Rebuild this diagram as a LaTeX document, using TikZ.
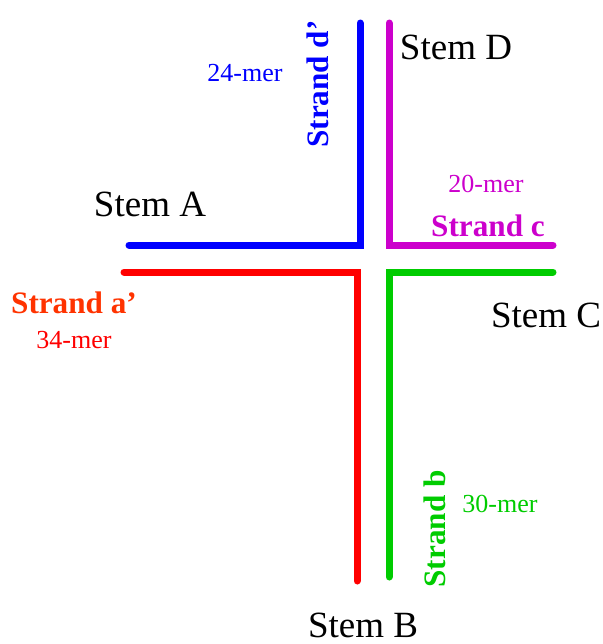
\documentclass[tikz,border=0pt]{standalone}
\usepackage{fontspec}
\setmainfont{Liberation Serif}
\definecolor{strandblue}{RGB}{0,0,255}
\definecolor{strandmag}{RGB}{204,0,204}
\definecolor{strandred}{RGB}{255,0,0}
\definecolor{strandorange}{RGB}{255,51,0}
\definecolor{strandgreen}{RGB}{0,204,0}
\tikzset{
  strand/.style={line width=3.5pt, line cap=round, line join=miter},
  stemlabel/.style={font=\fontsize{18.5}{20}\selectfont, inner sep=0pt},
  merlabel/.style={font=\fontsize{13}{15}\selectfont, inner sep=0pt},
  strandlabel/.style={font=\fontsize{15.6}{17}\selectfont\bfseries, inner sep=0pt}
}
\begin{document}
\begin{tikzpicture}[x=0.5pt,y=-0.5pt]
\useasboundingbox (0,0) rectangle (603,644);

% strand d' (stem A / stem D)
\draw [strand, strandblue] (129,245) -- (360,245) -- (360,23);
% strand c (stem D / stem C)
\draw [strand, strandmag] (389,23) -- (389,245) -- (553,245);
% strand a' (stem A / stem B)
\draw [strand, strandred] (124,272) -- (357,272) -- (357,581);
% strand b (stem C / stem B)
\draw [strand, strandgreen] (553,272) -- (389,272) -- (389,577);

\node [stemlabel] (stemA) at (150,204) {Stem A};
\node [stemlabel] (stemB) at (363,625) {Stem B};
\node [stemlabel] (stemC) at (546,315) {Stem C};
\node [stemlabel] (stemD) at (456,47) {Stem D};

\node [strandlabel, strandblue, rotate=90] (strandd) at (318,84) {Strand d’};
\node [merlabel, strandblue] (merd) at (245,73) {24-mer};

\node [strandlabel, strandmag] (strandc) at (488,226) {Strand c};
\node [merlabel, strandmag] (merc) at (486,184) {20-mer};

\node [strandlabel, strandorange] (stranda) at (74,303) {Strand a’};
\node [merlabel, strandred] (mera) at (74,340) {34-mer};

\node [strandlabel, strandgreen, rotate=90] (strandb) at (435,529) {Strand b};
\node [merlabel, strandgreen] (merb) at (500,504) {30-mer};
\end{tikzpicture}
\end{document}
